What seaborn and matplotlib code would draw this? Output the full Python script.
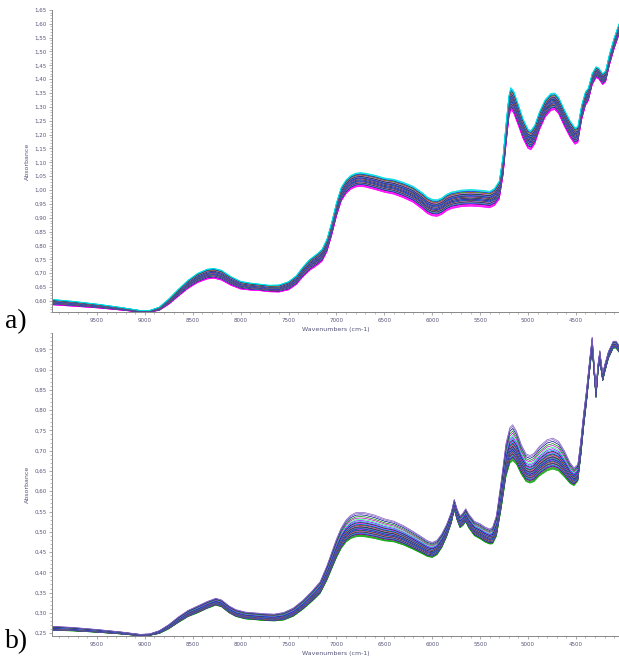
import numpy as np
import pandas as pd
import matplotlib
matplotlib.use('Agg')
import matplotlib.pyplot as plt
from matplotlib.ticker import FuncFormatter, MultipleLocator
import seaborn as sns

sns.set_theme(style="white")
plt.rcParams['font.family'] = ['DejaVu Sans']

# ---- panel a: mean spectrum ----
wn_a = [9970, 9750, 9500, 9250, 9050, 8950, 8850, 8750, 8650, 8550, 8450, 8350, 8280,
        8200, 8100, 8000, 7900, 7800, 7700, 7600, 7500, 7420, 7350, 7280, 7200, 7150,
        7100, 7050, 7000, 6950, 6900, 6850, 6800, 6750, 6700, 6600, 6500, 6400, 6300,
        6200, 6100, 6050, 6000, 5950, 5900, 5850, 5800, 5700, 5600, 5500, 5400, 5350,
        5300, 5260, 5230, 5200, 5180, 5150, 5100, 5050, 5000, 4970, 4930, 4880, 4820,
        4760, 4720, 4680, 4620, 4560, 4510, 4480, 4440, 4400, 4370, 4330, 4290, 4260,
        4220, 4190, 4150, 4100, 4050]
mean_a = [0.596, 0.590, 0.582, 0.572, 0.563, 0.563, 0.572, 0.598, 0.630, 0.660, 0.683, 0.697, 0.700,
          0.693, 0.672, 0.657, 0.652, 0.649, 0.645, 0.645, 0.655, 0.675, 0.705, 0.730, 0.750, 0.765,
          0.800, 0.860, 0.930, 0.985, 1.012, 1.028, 1.036, 1.038, 1.036, 1.028, 1.018, 1.012, 1.000,
          0.985, 0.960, 0.945, 0.937, 0.935, 0.942, 0.955, 0.963, 0.970, 0.972, 0.970, 0.966, 0.975,
          1.000, 1.090, 1.200, 1.300, 1.330, 1.318, 1.270, 1.220, 1.185, 1.180, 1.200, 1.250, 1.295,
          1.318, 1.320, 1.305, 1.260, 1.220, 1.195, 1.200, 1.280, 1.330, 1.345, 1.400, 1.425, 1.420,
          1.400, 1.410, 1.470, 1.530, 1.580]
spread_a = [0.010, 0.009, 0.007, 0.005, 0.003, 0.003, 0.006, 0.010, 0.013, 0.015, 0.017, 0.018, 0.018,
            0.018, 0.016, 0.014, 0.013, 0.012, 0.012, 0.013, 0.015, 0.016, 0.018, 0.020, 0.021, 0.022,
            0.023, 0.024, 0.025, 0.025, 0.025, 0.025, 0.025, 0.025, 0.025, 0.026, 0.026, 0.027, 0.028,
            0.029, 0.030, 0.030, 0.030, 0.030, 0.030, 0.030, 0.030, 0.030, 0.030, 0.030, 0.030, 0.031,
            0.033, 0.036, 0.038, 0.040, 0.040, 0.040, 0.038, 0.036, 0.035, 0.035, 0.034, 0.033, 0.032,
            0.031, 0.030, 0.030, 0.030, 0.030, 0.030, 0.029, 0.027, 0.025, 0.023, 0.021, 0.020, 0.020,
            0.020, 0.020, 0.020, 0.020, 0.020]

# ---- panel b: mean spectrum ----
wn_b = [9970, 9750, 9500, 9250, 9050, 8950, 8850, 8750, 8650, 8550, 8450, 8350, 8260,
        8200, 8120, 8050, 7950, 7850, 7750, 7650, 7550, 7450, 7350, 7250, 7170, 7100,
        7050, 7000, 6950, 6900, 6850, 6800, 6750, 6700, 6600, 6500, 6400, 6300, 6200,
        6100, 6050, 6000, 5950, 5900, 5850, 5800, 5770, 5740, 5710, 5680, 5650, 5620,
        5560, 5500, 5450, 5400, 5370, 5330, 5280, 5230, 5190, 5160, 5120, 5070, 5020,
        4980, 4940, 4880, 4800, 4740, 4680, 4620, 4560, 4520, 4480, 4450, 4420, 4390,
        4360, 4330, 4310, 4290, 4270, 4250, 4235, 4220, 4200, 4160, 4110, 4080, 4050]
mean_b = [0.261, 0.259, 0.255, 0.250, 0.245, 0.246, 0.252, 0.265, 0.282, 0.297, 0.307, 0.318, 0.326,
          0.322, 0.307, 0.298, 0.292, 0.290, 0.288, 0.287, 0.290, 0.300, 0.318, 0.340, 0.360, 0.395,
          0.425, 0.455, 0.480, 0.497, 0.507, 0.512, 0.513, 0.512, 0.507, 0.500, 0.496, 0.487, 0.475,
          0.462, 0.455, 0.452, 0.458, 0.475, 0.500, 0.533, 0.565, 0.540, 0.522, 0.528, 0.538, 0.524,
          0.505, 0.498, 0.490, 0.485, 0.487, 0.510, 0.585, 0.670, 0.705, 0.712, 0.700, 0.672, 0.652,
          0.648, 0.652, 0.668, 0.682, 0.686, 0.680, 0.662, 0.640, 0.632, 0.642, 0.700, 0.770, 0.830,
          0.900, 0.965, 0.900, 0.840, 0.900, 0.935, 0.905, 0.880, 0.900, 0.935, 0.960, 0.960, 0.950]
spread_b = [0.006, 0.005, 0.004, 0.003, 0.002, 0.002, 0.004, 0.006, 0.008, 0.009, 0.010, 0.010, 0.010,
            0.010, 0.010, 0.010, 0.010, 0.010, 0.010, 0.010, 0.011, 0.012, 0.013, 0.015, 0.017, 0.021,
            0.024, 0.027, 0.030, 0.032, 0.034, 0.035, 0.035, 0.035, 0.034, 0.032, 0.030, 0.028, 0.026,
            0.024, 0.023, 0.022, 0.021, 0.020, 0.018, 0.016, 0.015, 0.016, 0.017, 0.018, 0.019, 0.020,
            0.021, 0.022, 0.022, 0.022, 0.024, 0.030, 0.040, 0.048, 0.052, 0.052, 0.048, 0.043, 0.040,
            0.040, 0.041, 0.043, 0.045, 0.045, 0.043, 0.038, 0.030, 0.026, 0.024, 0.022, 0.020, 0.018,
            0.016, 0.015, 0.014, 0.013, 0.012, 0.012, 0.012, 0.011, 0.011, 0.010, 0.010, 0.010, 0.010]

# ---- position of each sample inside the band (-1 bottom .. +1 top) ----
pos_a = [-1.00, -0.95, -0.90, -0.82, -0.75, -0.70, -0.64, -0.60, -0.55, -0.50,
         -0.46, -0.42, -0.38, -0.34, -0.30, -0.27, -0.24, -0.20, -0.17, -0.14,
         -0.11, -0.08, -0.05, -0.02, 0.00, 0.03, 0.06, 0.09, 0.12, 0.15,
         0.18, 0.21, 0.24, 0.27, 0.30, 0.34, 0.38, 0.42, 0.46, 0.50,
         0.55, 0.60, 0.66, 0.72, 0.80, 0.88, 0.95, 1.00]
pos_b = [-0.70, -0.66, -0.62, -0.58, -0.55, -0.52, -0.49, -0.46, -0.43, -0.40,
         -0.38, -0.35, -0.33, -0.30, -0.28, -0.25, -0.23, -0.20, -0.18, -0.15,
         -0.13, -0.10, -0.08, -0.05, -0.03, 0.00, 0.03, 0.06, 0.09, 0.12,
         0.15, 0.19, 0.23, 0.28, 0.34, 0.42, 0.50, 0.60, 0.70, 0.82, 0.92, 1.00]

line_colors = ['#ff0000', '#00b000', '#0000ff', '#00d0d0', '#ff00ff', '#000000',
               '#0080ff', '#8000ff', '#00ff80', '#c000c0', '#008000', '#000090',
               '#ff4080', '#40c0ff']

x_ticks = [9500, 9000, 8500, 8000, 7500, 7000, 6500, 6000, 5500, 5000, 4500]


def long_frame(wn, mean, spread, pos):
    wn = np.array(wn)
    mean = np.array(mean)
    spread = np.array(spread)
    rows = []
    for i, p in enumerate(pos):
        rows.append(pd.DataFrame({'wn': wn, 'abs': mean + p * spread, 'sample': i}))
    return pd.concat(rows, ignore_index=True)


def colours_for(pos, low_col, high_col):
    cols = [line_colors[i % len(line_colors)] for i in range(len(pos))]
    order = np.argsort(pos)
    for k in order[:4]:
        cols[k] = low_col
    for k in order[-2:]:
        cols[k] = high_col
    return cols


fig = plt.figure(figsize=(6.19, 6.57), dpi=100)
ax_a = fig.add_axes([0.084, 0.525, 0.916, 0.46])
ax_b = fig.add_axes([0.084, 0.032, 0.916, 0.461])

tick_col = '#55557a'
comma = FuncFormatter(lambda v, p: f"{v:.2f}".replace('.', ','))

panels = [
    (ax_a, long_frame(wn_a, mean_a, spread_a, pos_a), colours_for(pos_a, '#ff00ff', '#00e0e0'),
     (0.56, 1.65), np.arange(0.60, 1.651, 0.05), 'a)', 0.500),
    (ax_b, long_frame(wn_b, mean_b, spread_b, pos_b), colours_for(pos_b, '#00a000', '#8060c0'),
     (0.243, 0.99), np.arange(0.25, 0.951, 0.05), 'b)', 0.014),
]

for ax, df, cols, ylim, yt, tag, tag_y in panels:
    sns.lineplot(data=df, x='wn', y='abs', hue='sample', palette=cols, legend=False,
                 estimator=None, linewidth=0.5, ax=ax)
    ax.set_xlim(9970, 4050)
    ax.set_ylim(*ylim)
    ax.set_xticks(x_ticks)
    ax.set_xticklabels([str(t) for t in x_ticks])
    ax.set_yticks(yt)
    ax.yaxis.set_major_formatter(comma)
    ax.xaxis.set_minor_locator(MultipleLocator(100))
    ax.yaxis.set_minor_locator(MultipleLocator(0.01))
    ax.tick_params(axis='both', which='major', direction='out', length=2.5, width=0.5,
                   labelsize=4, colors='#888888', labelcolor=tick_col, pad=1.5)
    ax.tick_params(axis='both', which='minor', direction='out', length=1.3, width=0.4,
                   colors='#888888', bottom=True, left=True)
    ax.tick_params(axis='both', which='major', bottom=True, left=True)
    for s in ['top', 'right']:
        ax.spines[s].set_visible(False)
    for s in ['left', 'bottom']:
        ax.spines[s].set_color('#888888')
        ax.spines[s].set_linewidth(0.7)
    ax.set_xlabel('Wavenumbers (cm-1)', fontsize=4.5, color=tick_col, labelpad=3)
    ax.set_ylabel('Absorbance', fontsize=4.5, color=tick_col, labelpad=3)
    fig.text(0.008, tag_y, tag, fontsize=20, family='Liberation Serif', color='black')

fig.savefig('out.png', dpi=100, facecolor='white')
